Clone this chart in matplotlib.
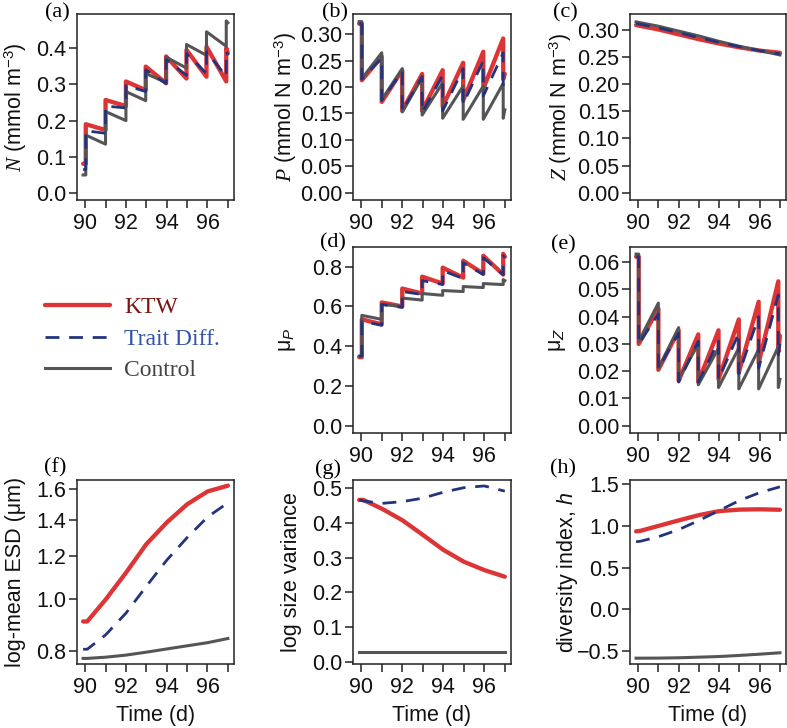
import matplotlib
matplotlib.use("Agg")
import matplotlib.pyplot as plt
import numpy as np

plt.rcParams['font.family'] = ['Liberation Sans', 'DejaVu Sans']
plt.rcParams['mathtext.fontset'] = 'custom'
plt.rcParams['mathtext.rm'] = 'Liberation Sans'
plt.rcParams['mathtext.it'] = 'Liberation Serif:italic'
plt.rcParams['mathtext.sf'] = 'Liberation Sans:italic'
plt.rcParams['mathtext.bf'] = 'Liberation Sans:bold'

# ---------------- data ----------------
series_names = ["KTW", "Trait Diff.", "Control"]
T_START, T_END = 89.9, 97.0
pulses = [90.03, 91.0, 92.0, 92.97, 93.97, 94.97, 95.95, 96.92]

# (a) N
N_ktw_start, N_ktw_end = 0.081, 0.386
N_ktw_pre = [0.081, 0.174, 0.240, 0.284, 0.303, 0.316, 0.321, 0.308]
N_ktw_post = [0.190, 0.257, 0.308, 0.349, 0.377, 0.395, 0.404, 0.400]
N_td_start, N_td_end = 0.065, 0.380
N_td_pre = [0.065, 0.165, 0.235, 0.280, 0.302, 0.325, 0.330, 0.322]
N_td_post = [0.172, 0.240, 0.297, 0.340, 0.368, 0.385, 0.390, 0.392]
N_ct_start, N_ct_end = 0.050, 0.470
N_ct_pre = [0.050, 0.135, 0.200, 0.255, 0.305, 0.345, 0.380, 0.405]
N_ct_post = [0.160, 0.225, 0.280, 0.330, 0.375, 0.410, 0.445, 0.475]

# (b) P
P_ktw_start, P_ktw_end = 0.320, 0.225
P_ktw_pre = [0.320, 0.258, 0.232, 0.225, 0.232, 0.246, 0.267, 0.292]
P_ktw_post = [0.213, 0.172, 0.155, 0.155, 0.163, 0.175, 0.197, 0.215]
P_td_start, P_td_end = 0.320, 0.210
P_td_pre = [0.320, 0.255, 0.230, 0.220, 0.222, 0.235, 0.250, 0.265]
P_td_post = [0.215, 0.175, 0.155, 0.152, 0.155, 0.168, 0.183, 0.200]
P_ct_start, P_ct_end = 0.324, 0.157
P_ct_pre = [0.324, 0.265, 0.235, 0.218, 0.208, 0.202, 0.202, 0.207]
P_ct_post = [0.216, 0.176, 0.153, 0.147, 0.141, 0.139, 0.139, 0.141]

# (c) Z
smooth_t = [89.9, 91, 92, 93, 94, 95, 96, 97]
Z_ktw = [0.309, 0.301, 0.292, 0.283, 0.275, 0.268, 0.262, 0.258]
Z_td = [0.312, 0.304, 0.295, 0.286, 0.277, 0.269, 0.262, 0.256]
Z_ct = [0.315, 0.307, 0.298, 0.289, 0.279, 0.270, 0.262, 0.254]

# (d) mu_P
muP_ktw_start, muP_ktw_end = 0.345, 0.850
muP_ktw_pre = [0.345, 0.510, 0.600, 0.665, 0.715, 0.745, 0.765, 0.760]
muP_ktw_post = [0.535, 0.620, 0.690, 0.750, 0.795, 0.830, 0.855, 0.865]
muP_td_start, muP_td_end = 0.350, 0.845
muP_td_pre = [0.350, 0.505, 0.595, 0.660, 0.710, 0.740, 0.760, 0.760]
muP_td_post = [0.525, 0.610, 0.675, 0.730, 0.780, 0.820, 0.845, 0.855]
muP_ct_start, muP_ct_end = 0.350, 0.730
muP_ct_pre = [0.350, 0.535, 0.600, 0.632, 0.656, 0.675, 0.695, 0.710]
muP_ct_post = [0.555, 0.610, 0.642, 0.665, 0.680, 0.700, 0.715, 0.735]

# (e) mu_Z
muZ_ktw_start, muZ_ktw_end = 0.062, 0.033
muZ_ktw_pre = [0.062, 0.043, 0.035, 0.0335, 0.035, 0.039, 0.0455, 0.053]
muZ_ktw_post = [0.030, 0.0205, 0.0165, 0.0160, 0.0170, 0.0195, 0.023, 0.027]
muZ_td_start, muZ_td_end = 0.062, 0.030
muZ_td_pre = [0.062, 0.041, 0.034, 0.031, 0.031, 0.034, 0.040, 0.048]
muZ_td_post = [0.030, 0.021, 0.016, 0.016, 0.017, 0.019, 0.021, 0.026]
muZ_ct_start, muZ_ct_end = 0.063, 0.017
muZ_ct_pre = [0.063, 0.045, 0.036, 0.030, 0.0285, 0.0285, 0.028, 0.029]
muZ_ct_post = [0.031, 0.021, 0.017, 0.015, 0.014, 0.0135, 0.0135, 0.014]

# (f)-(h) smooth trait curves
trait_t = [89.9, 90.1, 91, 92, 93, 94, 95, 96, 97]
ESD_ktw = [0.907, 0.907, 0.996, 1.118, 1.264, 1.387, 1.500, 1.585, 1.625]
ESD_td = [0.805, 0.805, 0.856, 0.940, 1.055, 1.180, 1.300, 1.420, 1.510]
ESD_ct = [0.774, 0.774, 0.778, 0.785, 0.795, 0.806, 0.817, 0.828, 0.843]
VAR_ktw = [0.465, 0.465, 0.440, 0.407, 0.365, 0.322, 0.288, 0.264, 0.245]
VAR_td = [0.465, 0.462, 0.455, 0.460, 0.470, 0.487, 0.500, 0.505, 0.490]
VAR_ct = [0.029, 0.029, 0.029, 0.029, 0.029, 0.029, 0.029, 0.029, 0.029]
H_ktw = [0.935, 0.940, 1.000, 1.066, 1.130, 1.178, 1.196, 1.200, 1.194]
H_td = [0.810, 0.815, 0.870, 0.955, 1.065, 1.185, 1.305, 1.400, 1.470]
H_ct = [-0.590, -0.590, -0.589, -0.585, -0.578, -0.570, -0.557, -0.542, -0.525]

x_ticks = [90, 91, 92, 93, 94, 95, 96, 97]
x_ticklabels = ["90", "", "92", "", "94", "", "96", ""]

# ---------------- style ----------------
C_RED = "#dd3535"
C_BLUE = "#24347c"
C_GRAY = "#555555"
styles = {
    "KTW": dict(color=C_RED, lw=3.1, ls="-", zorder=2, solid_capstyle="round"),
    "Trait Diff.": dict(color=C_BLUE, lw=2.0, ls=(0, (5, 3.5)), zorder=4),
    "Control": dict(color=C_GRAY, lw=2.2, ls="-", zorder=3),
}
text_colors = {"KTW": "#7d1414", "Trait Diff.": "#3554a8", "Control": "#444444"}

TICK_FS = 15.5
LAB_FS = 15.5

W, H = 787, 728
fig = plt.figure(figsize=(W / 100, H / 100), dpi=100)

cols = [(77, 234), (353, 511), (630, 786)]
rows = [(14, 200), (247, 433), (480, 664)]


def add_ax(c, r):
    l, rr = cols[c]
    t, b = rows[r]
    return fig.add_axes([l / W, 1 - b / H, (rr - l) / W, (b - t) / H])


def saw(start, pre, post, end):
    xs = [T_START]
    ys = [start]
    for p, a, b in zip(pulses, pre, post):
        xs += [p, p]
        ys += [a, b]
    xs.append(T_END)
    ys.append(end)
    return xs, ys


def style_ax(ax, c, r, ylim, yticks, ylabels, ylab, ylab_px, panel, panel_xy):
    ax.set_xlim(89.6, 97.3)
    ax.set_ylim(*ylim)
    ax.set_xticks(x_ticks)
    ax.set_xticklabels(x_ticklabels)
    ax.set_yticks(yticks)
    ax.set_yticklabels(ylabels)
    ax.minorticks_off()
    ax.tick_params(direction="out", length=6, width=1.1, labelsize=TICK_FS,
                   colors="#222222", labelcolor="#111111")
    ax.tick_params(axis="x", pad=3.5)
    ax.tick_params(axis="y", pad=1.5)
    for s in ax.spines.values():
        s.set_linewidth(1.1)
        s.set_color("#222222")
    l, rr = cols[c]
    ax.set_ylabel(ylab, fontsize=LAB_FS, va="center", color="#111111")
    ax.yaxis.set_label_coords((ylab_px - l) / (rr - l), 0.5)
    fig.text(panel_xy[0] / W, 1 - panel_xy[1] / H, panel, fontsize=16,
             family=["Liberation Serif", "DejaVu Serif"], ha="center", va="center")


def plot3(ax, data):
    lines = []
    for name, (xs, ys) in zip(series_names, data):
        ln, = ax.plot(xs, ys, **styles[name])
        lines.append(ln)
    return lines


# (a)
ax = add_ax(0, 0)
lines = plot3(ax, [saw(N_ktw_start, N_ktw_pre, N_ktw_post, N_ktw_end),
                   saw(N_td_start, N_td_pre, N_td_post, N_td_end),
                   saw(N_ct_start, N_ct_pre, N_ct_post, N_ct_end)])
style_ax(ax, 0, 0, (-0.019, 0.494), [0, 0.1, 0.2, 0.3, 0.4],
         ["0.0", "0.1", "0.2", "0.3", "0.4"],
         r"$\mathit{N}$ (mmol m$^{-3}$)", 16, "(a)", (57, 13))

# (b)
ax = add_ax(1, 0)
plot3(ax, [saw(P_ktw_start, P_ktw_pre, P_ktw_post, P_ktw_end),
           saw(P_td_start, P_td_pre, P_td_post, P_td_end),
           saw(P_ct_start, P_ct_pre, P_ct_post, P_ct_end)])
yt = [0, 0.05, 0.10, 0.15, 0.20, 0.25, 0.30]
style_ax(ax, 1, 0, (-0.0138, 0.3384), yt, ["%.2f" % v for v in yt],
         r"$\mathit{P}$ (mmol N m$^{-3}$)", 286, "(b)", (335, 13))

# (c)
ax = add_ax(2, 0)
plot3(ax, [(smooth_t, Z_ktw), (smooth_t, Z_td), (smooth_t, Z_ct)])
style_ax(ax, 2, 0, (-0.0135, 0.3295), yt, ["%.2f" % v for v in yt],
         r"$\mathit{Z}$ (mmol N m$^{-3}$)", 561, "(c)", (565, 13))

# (d)
ax = add_ax(1, 1)
plot3(ax, [saw(muP_ktw_start, muP_ktw_pre, muP_ktw_post, muP_ktw_end),
           saw(muP_td_start, muP_td_pre, muP_td_post, muP_td_end),
           saw(muP_ct_start, muP_ct_pre, muP_ct_post, muP_ct_end)])
yt = [0, 0.2, 0.4, 0.6, 0.8]
style_ax(ax, 1, 1, (-0.0367, 0.899), yt, ["%.1f" % v for v in yt],
         r"μ$_{\mathsf{P}}$", 288, "(d)", (333, 243))

# (e)
ax = add_ax(2, 1)
plot3(ax, [saw(muZ_ktw_start, muZ_ktw_pre, muZ_ktw_post, muZ_ktw_end),
           saw(muZ_td_start, muZ_td_pre, muZ_td_post, muZ_td_end),
           saw(muZ_ct_start, muZ_ct_pre, muZ_ct_post, muZ_ct_end)])
yt = [0, 0.01, 0.02, 0.03, 0.04, 0.05, 0.06]
style_ax(ax, 2, 1, (-0.0027, 0.0656), yt, ["%.2f" % v for v in yt],
         r"μ$_{\mathsf{Z}}$", 558, "(e)", (563, 245))

# (f)
ax = add_ax(0, 2)
plot3(ax, [(trait_t, ESD_ktw), (trait_t, ESD_td), (trait_t, ESD_ct)])
ax.set_yscale("log")
yt = [0.8, 1.0, 1.2, 1.4, 1.6]
style_ax(ax, 0, 2, (0.7556, 1.665), yt, ["%.1f" % v for v in yt],
         "log-mean ESD (μm)", 16, "(f)", (55, 468))

# (g)
ax = add_ax(1, 2)
plot3(ax, [(trait_t, VAR_ktw), (trait_t, VAR_td), (trait_t, VAR_ct)])
yt = [0, 0.1, 0.2, 0.3, 0.4, 0.5]
style_ax(ax, 1, 2, (-0.005, 0.522), yt, ["%.1f" % v for v in yt],
         "log size variance", 292, "(g)", (328, 469))

# (h)
ax = add_ax(2, 2)
plot3(ax, [(trait_t, H_ktw), (trait_t, H_td), (trait_t, H_ct)])
yt = [-0.5, 0, 0.5, 1.0, 1.5]
style_ax(ax, 2, 2, (-0.66, 1.552), yt, ["\u22120.5", "0.0", "0.5", "1.0", "1.5"],
         r"diversity index, $\mathsf{h}$", 567, "(h)", (563, 469))

# x labels for bottom row
for c in range(3):
    l, rr = cols[c]
    fig.text((l + rr) / 2 / W, 1 - 715 / H, "Time (d)", fontsize=LAB_FS,
             ha="center", va="center", color="#111111")

# legend
leg = fig.legend(lines, series_names, loc="center left",
                 bbox_to_anchor=(45 / W, 1 - 339 / H), frameon=False,
                 prop=dict(family=["Liberation Serif", "DejaVu Serif"], size=17),
                 handlelength=2.75, handletextpad=0.6, labelspacing=0.42,
                 borderpad=0, borderaxespad=0)
for txt, name in zip(leg.get_texts(), series_names):
    txt.set_color(text_colors[name])

fig.savefig("out.png", dpi=100)
